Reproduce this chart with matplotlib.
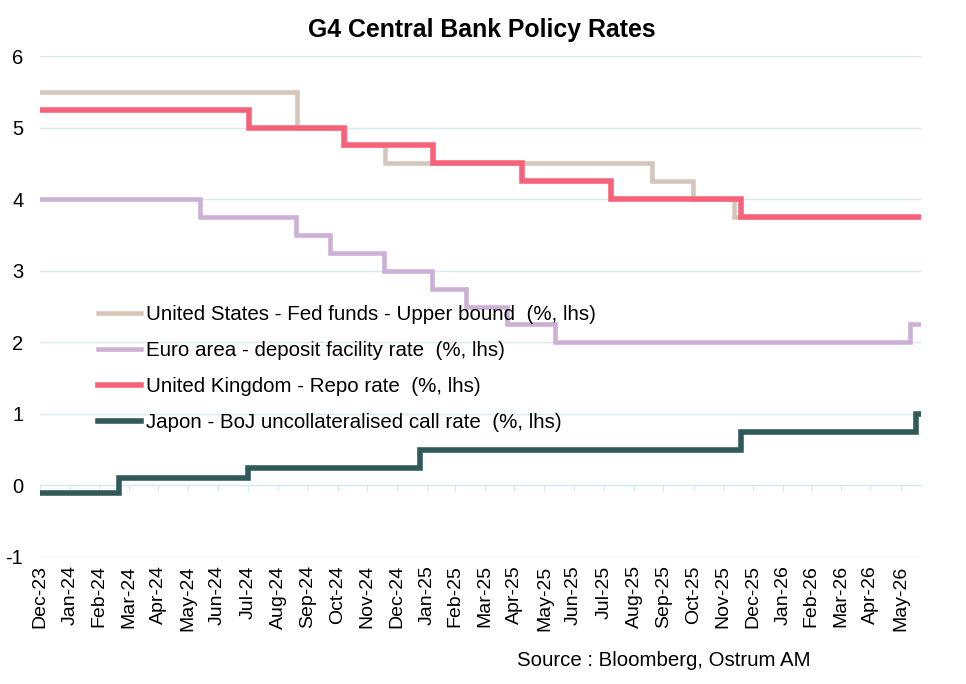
import matplotlib
matplotlib.use("Agg")
import matplotlib.pyplot as plt
import pandas as pd

plt.rcParams['font.family'] = ['Liberation Sans', 'DejaVu Sans']
plt.rcParams['axes.unicode_minus'] = False

# ---- data: (change date, new level) step series ----
start = "2023-12-31"
end = "2026-06-21"

us_dates = [start, "2024-09-19", "2024-11-08", "2024-12-19", "2025-09-18", "2025-10-30", "2025-12-11", end]
us_vals = [5.5, 5.0, 4.75, 4.5, 4.25, 4.0, 3.75, 3.75]

ea_dates = [start, "2024-06-12", "2024-09-18", "2024-10-23", "2024-12-18", "2025-02-05", "2025-03-12",
            "2025-04-23", "2025-06-11", "2026-06-10", end]
ea_vals = [4.0, 3.75, 3.5, 3.25, 3.0, 2.75, 2.5, 2.25, 2.0, 2.25, 2.25]

uk_dates = [start, "2024-08-01", "2024-11-07", "2025-02-06", "2025-05-08", "2025-08-07", "2025-12-18", end]
uk_vals = [5.25, 5.0, 4.75, 4.5, 4.25, 4.0, 3.75, 3.75]

jp_dates = [start, "2024-03-21", "2024-07-31", "2025-01-24", "2025-12-19", "2026-06-16", end]
jp_vals = [-0.1, 0.1, 0.25, 0.5, 0.75, 1.0, 1.0]

labels = [
    "United States - Fed funds - Upper bound  (%, lhs)",
    "Euro area - deposit facility rate  (%, lhs)",
    "United Kingdom - Repo rate  (%, lhs)",
    "Japon - BoJ uncollateralised call rate  (%, lhs)",
]
colors = ["#D6C6BA", "#CDB0D6", "#F7627B", "#2F5A58"]
widths = [3.3, 3.3, 4.0, 4.0]

yticks = [-1, 0, 1, 2, 3, 4, 5, 6]

fig = plt.figure(figsize=(9.66, 6.84), dpi=100)
ax = fig.add_axes([40/966, 1 - 557/684, (921 - 40)/966, (557 - 56)/684])

series = [(us_dates, us_vals), (ea_dates, ea_vals), (uk_dates, uk_vals), (jp_dates, jp_vals)]
for (d, v), lab, c, w in zip(series, labels, colors, widths):
    ax.step(pd.to_datetime(d), v, where="post", color=c, lw=w, label=lab,
            solid_joinstyle="miter", zorder=3)

ax.set_ylim(-1, 6)
ax.set_yticks(yticks)
ax.set_yticklabels([str(v) for v in yticks])
ax.set_xlim(pd.Timestamp(start), pd.Timestamp(end))
ax.grid(axis="y", color="#D8EAF0", lw=1.0, zorder=0)
for s in ax.spines.values():
    s.set_visible(False)

# month-end ticks
ticks = pd.date_range("2023-12-31", "2026-05-31", freq="ME")
ax.set_xticks(ticks)
ax.set_xticklabels([t.strftime("%b-%y") for t in ticks], rotation=90, fontsize=14)
ax.tick_params(axis="x", length=0, pad=6)
ax.tick_params(axis="y", length=0, labelsize=14.5, pad=12)

# small tick marks on the zero line
sec = ax.secondary_xaxis(1/7)
sec.set_xticks(ticks)
sec.tick_params(axis="x", direction="out", length=4, color="#D8EAF0", labelbottom=False,
                labeltop=False, bottom=True, top=False)
sec.spines["bottom"].set_color("#D8EAF0")
sec.spines["top"].set_visible(False)
sec.xaxis.set_ticks_position("bottom")
sec.set_xticklabels([])

leg = ax.legend(loc="upper left", bbox_to_anchor=(50/881, 1 - (297 - 56)/501), frameon=False,
                fontsize=14.8, handlelength=2.1, handletextpad=0.2, labelspacing=0.82,
                borderaxespad=0)

fig.text(482/966, 1 - 30/684, "G4 Central Bank Policy Rates", ha="center", va="center",
         fontsize=17.9, fontweight="bold")
fig.text(664/966, 1 - 660/684, "Source : Bloomberg, Ostrum AM", ha="center", va="center",
         fontsize=14.7)

fig.savefig("out.png", dpi=100)
